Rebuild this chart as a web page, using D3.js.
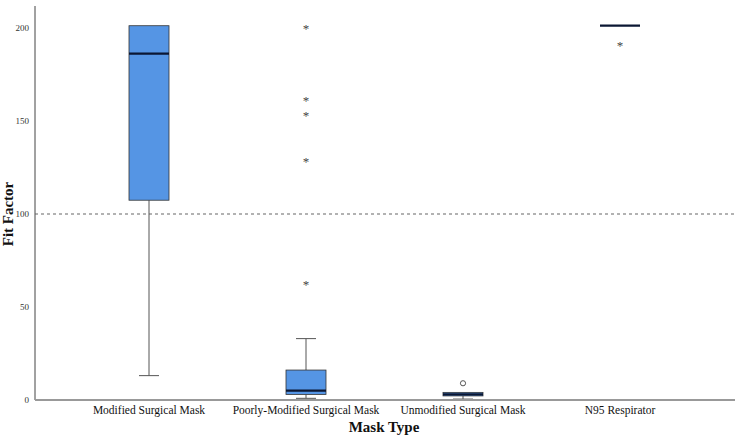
<!DOCTYPE html>
<html><head><meta charset="utf-8">
<script src="https://cdn.jsdelivr.net/npm/d3@7"></script>
<style>body{margin:0;background:#fff}svg{display:block}
svg text{font-family:"Liberation Serif","Times New Roman",serif}</style>
</head><body>
<svg id="c" width="741" height="439"></svg>
<script>
const categories = ["Modified Surgical Mask","Poorly-Modified Surgical Mask","Unmodified Surgical Mask","N95 Respirator"];
const whiskerLow = [13.1, 0.9, 0.5, 201.2];
const q1 = [107.4, 3.0, 2.2, 201.2];
const median = [186.2, 5.0, 3.0, 201.2];
const q3 = [201.2, 16.1, 4.1, 201.2];
const whiskerHigh = [201.2, 33.0, 4.1, 201.2];
const outlierCircles = [[], [], [9.0], []];
const outlierStars = [[], [200.7, 161.8, 153.8, 128.9, 62.7], [], [191.2]];
const yTicks = [0, 50, 100, 150, 200];
const referenceValue = 100;

const serif = '"Liberation Serif","Times New Roman",serif';
const svg = d3.select("#c");
const x0 = 35, x1 = 735, yTop = 6, yBot = 400;
const y = d3.scaleLinear().domain([0, 211.8]).range([yBot, yTop]);
const x = d3.scaleBand().domain(categories).range([70.5, 698.5]);
const cx = c => x(c) + x.bandwidth() / 2;
const boxW = 40, capW = 20;

// y axis
const yAxis = d3.axisLeft(y).tickValues(yTicks).tickSize(0).tickPadding(6);
const gy = svg.append("g").attr("transform", `translate(${x0},0)`).call(yAxis);
gy.select(".domain").remove();
gy.selectAll("text").style("font-family", serif).style("font-size", "9px").attr("fill", "#333");
svg.append("line").attr("x1", x0).attr("x2", x0).attr("y1", yTop).attr("y2", yBot).attr("stroke", "#444").attr("stroke-width", 1);

// x axis
const xAxis = d3.axisBottom(x).tickSize(0).tickPadding(6);
const gx = svg.append("g").attr("transform", `translate(0,${yBot})`).call(xAxis);
gx.select(".domain").remove();
gx.selectAll("text").style("font-family", serif).style("font-size", "11.5px").attr("fill", "#111");

// reference line
svg.append("line").attr("x1", x0).attr("x2", x1).attr("y1", y(referenceValue)).attr("y2", y(referenceValue))
  .attr("stroke", "#666").attr("stroke-width", 1.2).attr("stroke-dasharray", "3,3");

// boxes
categories.forEach((c, i) => {
  const g = svg.append("g");
  const m = cx(c);
  if (whiskerHigh[i] > q3[i]) {
    g.append("line").attr("x1", m).attr("x2", m).attr("y1", y(q3[i])).attr("y2", y(whiskerHigh[i])).attr("stroke", "#555");
    g.append("line").attr("x1", m - capW/2).attr("x2", m + capW/2).attr("y1", y(whiskerHigh[i])).attr("y2", y(whiskerHigh[i])).attr("stroke", "#555");
  }
  if (whiskerLow[i] < q1[i]) {
    g.append("line").attr("x1", m).attr("x2", m).attr("y1", y(q1[i])).attr("y2", y(whiskerLow[i])).attr("stroke", "#555");
    g.append("line").attr("x1", m - capW/2).attr("x2", m + capW/2).attr("y1", y(whiskerLow[i])).attr("y2", y(whiskerLow[i])).attr("stroke", "#555");
  }
  if (q3[i] > q1[i]) {
    g.append("rect").attr("x", m - boxW/2).attr("width", boxW).attr("y", y(q3[i])).attr("height", y(q1[i]) - y(q3[i]))
      .attr("fill", "#5595E4").attr("stroke", "#333").attr("stroke-width", 0.8);
  }
  g.append("line").attr("x1", m - boxW/2).attr("x2", m + boxW/2).attr("y1", y(median[i])).attr("y2", y(median[i]))
    .attr("stroke", "#0b1733").attr("stroke-width", 2.2);
  outlierCircles[i].forEach(v => g.append("circle").attr("cx", m).attr("cy", y(v)).attr("r", 2.6)
    .attr("fill", "none").attr("stroke", "#444").attr("stroke-width", 0.9));
  outlierStars[i].forEach(v => g.append("text").attr("x", m).attr("y", y(v) + 6).attr("text-anchor", "middle")
    .style("font-family", serif).style("font-size", "13px").attr("fill", "#444").text("*"));
});

// x axis line drawn on top
svg.append("line").attr("x1", x0).attr("x2", x1).attr("y1", yBot).attr("y2", yBot).attr("stroke", "#999").attr("stroke-width", 2);

// axis titles
svg.append("text").attr("x", 384).attr("y", 432).attr("text-anchor", "middle")
  .style("font-family", serif).style("font-weight", "bold").style("font-size", "15px").attr("fill", "#111").text("Mask Type");
svg.append("text").attr("transform", "translate(13,214) rotate(-90)").attr("text-anchor", "middle")
  .style("font-family", serif).style("font-weight", "bold").style("font-size", "15px").attr("fill", "#111").text("Fit Factor");
</script>
</body></html>
